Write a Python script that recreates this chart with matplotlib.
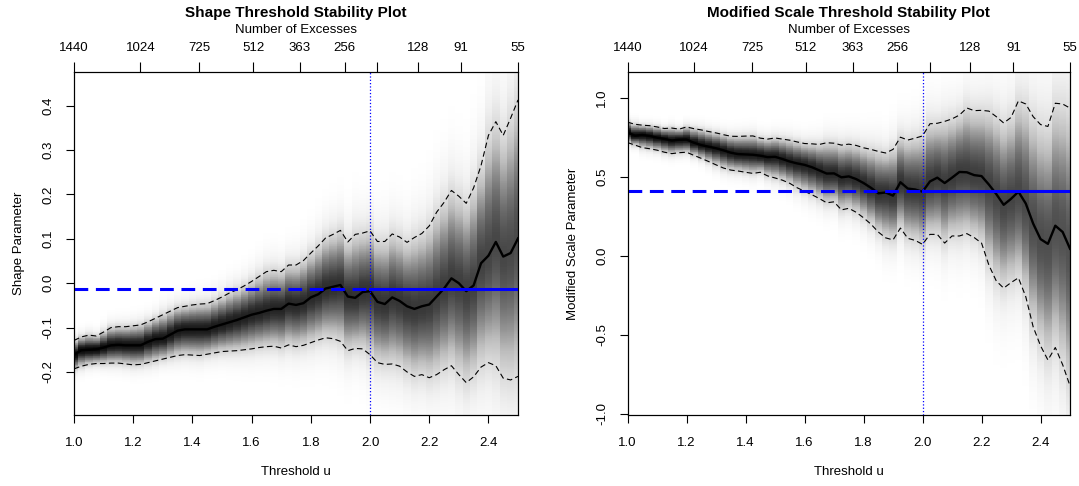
import numpy as np
import matplotlib
matplotlib.use("Agg")
import matplotlib.pyplot as plt

plt.rcParams['font.family'] = ['Liberation Sans', 'DejaVu Sans']

# threshold grid
thresholds = np.round(np.arange(1.0, 2.5001, 0.025), 3)

# top axis: number of excesses
excess_pos = [1.0, 1.224, 1.422, 1.605, 1.763, 1.914, 2.025, 2.161, 2.308, 2.5]
excess_labels = ['1440', '1024', '725', '512', '363', '256', '', '128', '91', '55']

chosen_u = 2.0

# shape parameter
shape_est = [-0.161, -0.151, -0.150, -0.149, -0.145, -0.140, -0.139, -0.140, -0.140, -0.140,
             -0.132, -0.126, -0.125, -0.116, -0.107, -0.104, -0.104, -0.104, -0.104, -0.098,
             -0.093, -0.088, -0.083, -0.077, -0.071, -0.067, -0.062, -0.058, -0.058, -0.046,
             -0.049, -0.045, -0.032, -0.025, -0.012, -0.008, -0.004, -0.030, -0.033, -0.020,
             -0.018, -0.042, -0.047, -0.032, -0.040, -0.052, -0.058, -0.052, -0.048, -0.030,
             -0.012, 0.011, 0.000, -0.018, -0.005, 0.045, 0.062, 0.093, 0.060, 0.068, 0.101]
shape_upper = [-0.129, -0.121, -0.117, -0.119, -0.110, -0.100, -0.098, -0.098, -0.096, -0.094,
               -0.087, -0.079, -0.071, -0.063, -0.055, -0.052, -0.049, -0.047, -0.046, -0.039,
               -0.031, -0.022, -0.015, -0.006, 0.004, 0.015, 0.026, 0.029, 0.026, 0.041,
               0.041, 0.051, 0.068, 0.084, 0.102, 0.110, 0.119, 0.093, 0.110, 0.113,
               0.118, 0.094, 0.094, 0.111, 0.104, 0.092, 0.103, 0.112, 0.129, 0.160,
               0.182, 0.209, 0.196, 0.180, 0.215, 0.265, 0.333, 0.364, 0.333, 0.372, 0.413]
shape_lower = [-0.193, -0.187, -0.183, -0.181, -0.181, -0.180, -0.180, -0.182, -0.184, -0.183,
               -0.179, -0.175, -0.171, -0.167, -0.163, -0.161, -0.162, -0.163, -0.160, -0.157,
               -0.154, -0.153, -0.152, -0.150, -0.148, -0.145, -0.143, -0.142, -0.146, -0.139,
               -0.143, -0.140, -0.134, -0.128, -0.123, -0.125, -0.131, -0.152, -0.147, -0.148,
               -0.161, -0.179, -0.183, -0.182, -0.187, -0.200, -0.210, -0.206, -0.213, -0.206,
               -0.195, -0.186, -0.206, -0.224, -0.211, -0.189, -0.179, -0.186, -0.214, -0.218, -0.210]
shape_fit = -0.013

# modified scale parameter
scale_est = [0.780, 0.760, 0.764, 0.758, 0.747, 0.739, 0.729, 0.734, 0.735, 0.715,
             0.700, 0.690, 0.680, 0.667, 0.652, 0.643, 0.641, 0.639, 0.633, 0.624,
             0.626, 0.612, 0.596, 0.584, 0.575, 0.560, 0.540, 0.520, 0.521, 0.496,
             0.502, 0.485, 0.460, 0.430, 0.395, 0.400, 0.380, 0.465, 0.425, 0.419,
             0.405, 0.470, 0.494, 0.460, 0.494, 0.530, 0.528, 0.510, 0.504, 0.450,
             0.390, 0.322, 0.360, 0.405, 0.330, 0.203, 0.105, 0.075, 0.190, 0.150, 0.044]
scale_upper = [0.845, 0.832, 0.826, 0.823, 0.815, 0.805, 0.808, 0.801, 0.815, 0.804,
               0.796, 0.786, 0.777, 0.766, 0.756, 0.755, 0.757, 0.758, 0.744, 0.738,
               0.745, 0.738, 0.731, 0.720, 0.710, 0.708, 0.704, 0.715, 0.712, 0.700,
               0.706, 0.698, 0.683, 0.673, 0.660, 0.650, 0.673, 0.750, 0.732, 0.744,
               0.758, 0.835, 0.838, 0.850, 0.866, 0.890, 0.935, 0.918, 0.920, 0.915,
               0.880, 0.840, 0.875, 0.980, 0.960, 0.880, 0.830, 0.818, 0.965, 0.960, 0.934]
scale_lower = [0.716, 0.700, 0.684, 0.677, 0.668, 0.655, 0.646, 0.652, 0.655, 0.635,
               0.616, 0.596, 0.575, 0.555, 0.542, 0.536, 0.528, 0.521, 0.528, 0.505,
               0.492, 0.478, 0.458, 0.430, 0.408, 0.386, 0.362, 0.335, 0.341, 0.290,
               0.300, 0.275, 0.240, 0.200, 0.150, 0.113, 0.100, 0.175, 0.110, 0.097,
               0.072, 0.135, 0.135, 0.080, 0.125, 0.125, 0.140, 0.115, 0.080, -0.060,
               -0.160, -0.205, -0.170, -0.140, -0.260, -0.450, -0.570, -0.660, -0.581, -0.690, -0.824]
scale_fit = 0.41


def stability_panel(rect, est, upper, lower, fit, ylim, yticks, ylabel, title):
    ax = fig.add_axes(rect)
    est = np.array(est)
    upper = np.array(upper)
    lower = np.array(lower)

    # grey density shading around the estimate
    yy = np.linspace(ylim[0], ylim[1], 500)
    sd_up = (upper - est) / 1.96
    sd_lo = (est - lower) / 1.96
    sd = np.where(yy[:, None] >= est[None, :], sd_up[None, :], sd_lo[None, :])
    z = (yy[:, None] - est[None, :]) / sd
    width = upper - lower
    peak = 0.97 * (width.min() / width) ** 0.1
    dens = np.exp(-0.5 * z ** 2 / 1.6) * peak[None, :]
    ax.pcolormesh(thresholds, yy, dens, cmap='Greys', vmin=0, vmax=1,
                  shading='nearest', rasterized=True, zorder=0)

    ax.plot(thresholds, upper, color='k', lw=0.8, ls=(0, (5, 3)), zorder=2)
    ax.plot(thresholds, lower, color='k', lw=0.8, ls=(0, (5, 3)), zorder=2)
    ax.plot(thresholds, est, color='k', lw=1.7, zorder=3)

    ax.plot([thresholds[0], chosen_u], [fit, fit], color='#0000FF', lw=2.2,
            ls=(0, (4.5, 2.5)), zorder=4)
    ax.plot([chosen_u, thresholds[-1]], [fit, fit], color='#0000FF', lw=2.2, zorder=4)
    ax.axvline(chosen_u, color='#0000FF', lw=0.9, ls=':', zorder=4)

    ax.set_xlim(1.0, 2.5)
    ax.set_ylim(*ylim)
    ax.set_xticks([1.0, 1.2, 1.4, 1.6, 1.8, 2.0, 2.2, 2.4])
    ax.set_xticklabels(['1.0', '1.2', '1.4', '1.6', '1.8', '2.0', '2.2', '2.4'])
    ax.set_yticks(yticks)
    ax.set_yticklabels(['%.1f' % v for v in yticks], rotation=90, va='center')
    ax.tick_params(axis='x', length=6, pad=10, labelsize=9.5)
    ax.tick_params(axis='y', length=6, pad=8, labelsize=9.5)
    ax.set_xlabel('Threshold u', fontsize=9.5)
    ax.xaxis.set_label_coords(0.5, -0.15)
    ax.set_ylabel(ylabel, fontsize=9.5)
    ax.yaxis.set_label_coords(-0.11, 0.5)

    top = ax.twiny()
    top.set_xlim(ax.get_xlim())
    top.set_xticks(excess_pos)
    top.set_xticklabels(excess_labels)
    top.tick_params(axis='x', length=7, pad=6, labelsize=9.5)

    ax.text(0.5, 1.125, 'Number of Excesses', transform=ax.transAxes,
            ha='center', va='center', fontsize=9.5)
    ax.text(0.5, 1.172, title, transform=ax.transAxes, ha='center', va='center',
            fontsize=11, fontweight='bold')
    return ax


fig = plt.figure(figsize=(10.79, 4.86), dpi=100)

stability_panel([0.0686, 0.1461, 0.4115, 0.7049], shape_est, shape_upper, shape_lower,
                shape_fit, (-0.297, 0.475), [-0.2, -0.1, 0.0, 0.1, 0.2, 0.3, 0.4],
                'Shape Parameter', 'Shape Threshold Stability Plot')
stability_panel([0.5816, 0.1461, 0.4101, 0.7049], scale_est, scale_upper, scale_lower,
                scale_fit, (-1.008, 1.16), [-1.0, -0.5, 0.0, 0.5, 1.0],
                'Modified Scale Parameter', 'Modified Scale Threshold Stability Plot')

fig.savefig('out.png', dpi=100)
